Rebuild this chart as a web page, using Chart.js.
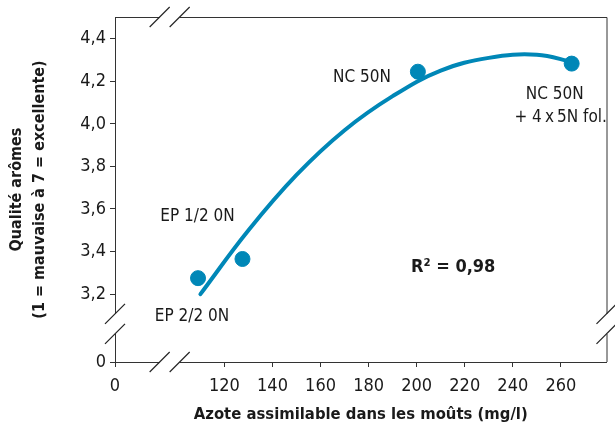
<!DOCTYPE html>
<html lang="fr">
<head>
<meta charset="UTF-8">
<title>Qualité arômes et azote assimilable</title>
<script src="https://cdn.jsdelivr.net/npm/chart.js"></script>
<style>
  html, body { margin: 0; padding: 0; background: #fff; }
  #wrap { width: 615px; height: 435px; }
</style>
</head>
<body>
<div id="wrap"><canvas id="chart"></canvas></div>
<script>
  // measured points
  const azote = [109, 127.5, 200.5, 264.5];
  const qualite = [3.275, 3.365, 4.245, 4.283];
  const pointNames = [['EP 2/2 0N'], ['EP 1/2 0N'], ['NC 50N'], ['NC 50N', '+ 4\u2009x\u20095N fol.']];

  // fitted curve
  const curveX = [110, 130, 150, 170, 190, 210, 230, 250, 265];
  const curveY = [3.20, 3.50, 3.76, 3.97, 4.13, 4.25, 4.31, 4.325, 4.29];

  const xTicks = [120, 140, 160, 180, 200, 220, 240, 260];
  const yTicks = [3.2, 3.4, 3.6, 3.8, 4.0, 4.2, 4.4];
  const r2Text = 'R² = 0,98';

  // broken axes: the axis start stands for 0
  const X_ZERO = 74.45, X_MAX = 279, X_BREAK = 97.2;
  const Y_ZERO = 2.881, Y_MAX = 4.502, Y_BREAK = 3.06;

  const BLUE = '#0087b7';
  const INK = '#1a1a1a';
  const FONT = "'Liberation Sans Narrow', 'DejaVu Sans Condensed', sans-serif";

  // label offsets (px) from each point
  const labelOffsets = [[-6, 38], [-45, -42], [-56, 6], [-17, 31]];

  const decoPlugin = {
    id: 'deco',
    afterDatasetsDraw(chart) {
      const { ctx, chartArea: a, scales: { x, y } } = chart;
      ctx.save();
      // frame top and right
      ctx.strokeStyle = '#333';
      ctx.lineWidth = 1;
      ctx.beginPath();
      ctx.moveTo(a.left, a.top + 0.5);
      ctx.lineTo(a.right + 0.5, a.top + 0.5);
      ctx.lineTo(a.right + 0.5, a.bottom);
      ctx.stroke();

      // breaks
      const bx = x.getPixelForValue(X_BREAK);
      const by = y.getPixelForValue(Y_BREAK);
      ctx.fillStyle = '#fff';
      ctx.fillRect(bx - 10, a.top - 2, 20, 4);
      ctx.fillRect(bx - 10, a.bottom - 2, 20, 4);
      ctx.fillRect(a.left - 2, by - 10, 4, 20);
      ctx.fillRect(a.right - 2, by - 10, 4, 20);
      ctx.strokeStyle = '#222';
      ctx.lineWidth = 1.2;
      const slash = (cx, cy) => {
        ctx.beginPath();
        ctx.moveTo(cx - 10, cy + 10);
        ctx.lineTo(cx + 10, cy - 10);
        ctx.stroke();
      };
      [-10, 10].forEach(d => {
        slash(bx + d, a.top);
        slash(bx + d, a.bottom);
        slash(a.left, by + d);
        slash(a.right, by + d);
      });

      // point labels
      ctx.fillStyle = INK;
      ctx.font = '17px ' + FONT;
      ctx.textAlign = 'center';
      ctx.textBaseline = 'middle';
      pointNames.forEach((lines, i) => {
        const px = x.getPixelForValue(azote[i]) + labelOffsets[i][0];
        const py = y.getPixelForValue(qualite[i]) + labelOffsets[i][1];
        lines.forEach((t, j) => ctx.fillText(t, px + (j ? 6 : 0), py + j * 23));
      });

      ctx.font = 'bold 18px ' + FONT;
      ctx.fillText(r2Text, x.getPixelForValue(215.2), y.getPixelForValue(3.327));
      ctx.restore();
    }
  };

  new Chart(document.getElementById('chart'), {
    type: 'scatter',
    data: {
      datasets: [{
        label: 'Courbe',
        type: 'line',
        data: curveX.map((v, i) => ({ x: v, y: curveY[i] })),
        borderColor: BLUE,
        borderWidth: 4,
        borderCapStyle: 'round',
        pointRadius: 0,
        fill: false,
        tension: 0.4
      }, {
        label: 'Mesures',
        data: azote.map((v, i) => ({ x: v, y: qualite[i] })),
        backgroundColor: BLUE,
        borderColor: BLUE,
        pointRadius: 7.5,
        pointHoverRadius: 7.5
      }]
    },
    options: {
      responsive: true,
      maintainAspectRatio: false,
      animation: false,
      layout: { padding: { top: 17, right: 6, left: 0, bottom: 0 } },
      plugins: { legend: { display: false }, tooltip: { enabled: false } },
      scales: {
        x: {
          type: 'linear',
          min: X_ZERO,
          max: X_MAX,
          afterFit(s) { s.height = 73; },
          afterBuildTicks(s) {
            s.ticks = [{ value: X_ZERO }].concat(xTicks.map(v => ({ value: v })));
          },
          ticks: {
            color: INK,
            font: { family: FONT, size: 18 },
            padding: 9,
            autoSkip: false,
            maxRotation: 0,
            callback: v => (v === X_ZERO ? '0' : String(v))
          },
          grid: { drawOnChartArea: false, tickLength: 5, color: '#333' },
          border: { color: '#333' },
          title: {
            display: true,
            text: 'Azote assimilable dans les moûts (mg/l)',
            color: INK,
            font: { family: FONT, size: 16.5, weight: 'bold' },
            padding: { top: 0, bottom: 10 }
          }
        },
        y: {
          type: 'linear',
          min: Y_ZERO,
          max: Y_MAX,
          afterFit(s) { s.width = 115; },
          afterBuildTicks(s) {
            s.ticks = [{ value: Y_ZERO }].concat(yTicks.map(v => ({ value: v })));
          },
          ticks: {
            color: INK,
            font: { family: FONT, size: 18 },
            padding: 4,
            autoSkip: false,
            callback: v => (v === Y_ZERO ? '0' : v.toFixed(1).replace('.', ','))
          },
          grid: { drawOnChartArea: false, tickLength: 5, color: '#333' },
          border: { color: '#333' },
          title: {
            display: true,
            text: ['Qualité arômes', '(1 = mauvaise à 7 = excellente)'],
            color: INK,
            font: { family: FONT, size: 16, weight: 'bold', lineHeight: 1.45 },
            padding: { top: 5, bottom: 0 }
          }
        }
      }
    },
    plugins: [decoPlugin]
  });
</script>
</body>
</html>
